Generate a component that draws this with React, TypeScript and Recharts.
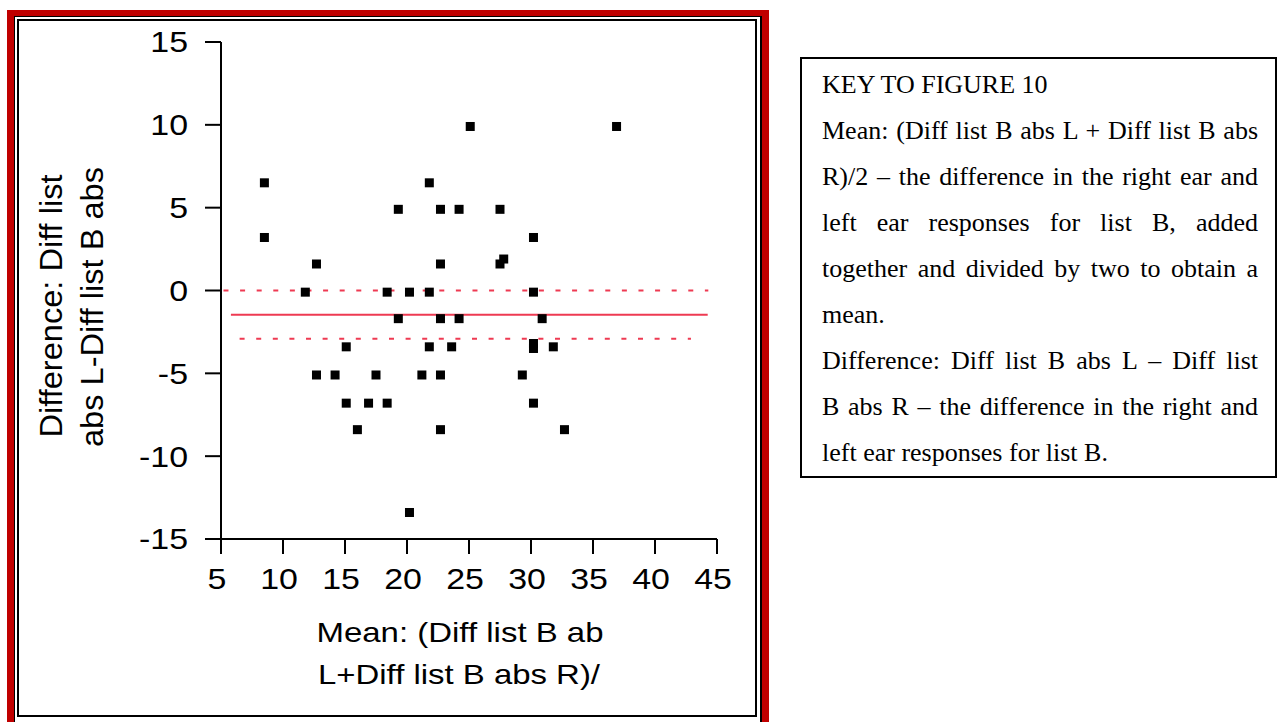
import React from 'react';
import { ScatterChart, Scatter, XAxis, YAxis, ReferenceLine } from 'recharts';

// Mean of the two responses (x) and difference L-R (y) for each subject
const meanValues = [8.5, 8.5, 11.8, 12.7, 12.7, 14.2, 15.1, 15.1, 16.0, 16.9, 17.5, 18.4, 18.4, 19.3, 19.3, 20.2, 20.2, 21.2, 21.8, 21.8, 21.8, 22.7, 22.7, 22.7, 22.7, 22.7, 23.6, 24.2, 24.2, 25.1, 27.5, 27.5, 27.8, 29.3, 30.2, 30.2, 30.2, 30.2, 30.2, 30.9, 31.8, 32.7, 36.9];
const diffValues = [6.5, 3.2, -0.1, 1.6, -5.1, -5.1, -3.4, -6.8, -8.4, -6.8, -5.1, -0.1, -6.8, 4.9, -1.7, -0.1, -13.4, -5.1, 6.5, -0.1, -3.4, 4.9, 1.6, -1.7, -5.1, -8.4, -3.4, 4.9, -1.7, 9.9, 4.9, 1.6, 1.9, -5.1, 3.2, -0.1, -3.2, -3.5, -6.8, -1.7, -3.4, -8.4, 9.9];

// Horizontal reference lines (upper limit, mean difference, lower limit)
const refLevels = [0, -1.46, -2.91];
const refStarts = [5.2, 5.8, 6.5];
const refEnds = [44.3, 44.25, 42.9];
const refDashed = [true, false, true];

const xTicks = [5, 10, 15, 20, 25, 30, 35, 40, 45];
const yTicks = [-15, -10, -5, 0, 5, 10, 15];

const yLabelLines = ['Difference: Diff list', 'abs L-Diff list B abs'];
const xLabelLines = ['Mean: (Diff list B ab', 'L+Diff list B abs R)/'];

const keyLines = [
  'KEY TO FIGURE 10',
  'Mean: (Diff list B abs L + Diff list B abs',
  'R)/2 \u2013 the difference in the right ear and',
  'left ear responses for list B, added',
  'together and divided by two to obtain a',
  'mean.',
  'Difference: Diff list B abs L \u2013 Diff list',
  'B abs R \u2013 the difference in the right and',
  'left ear responses for list B.',
];
const keyJustified = [false, true, true, true, true, false, true, true, false];

const points = meanValues.map((m, i) => ({ x: m, y: diffValues[i] }));

const SANS = '"Liberation Sans", Arial, sans-serif';
const SERIF = '"Liberation Serif", "Times New Roman", serif';
const LINE_COLOR = '#ee3a52';

const XTick = (props: any) => {
  const { x, y, payload } = props;
  return (
    <g transform={`translate(${x - 4},${y})`}>
      <text transform="scale(1.15,1)" textAnchor="middle" dy="0.71em" fontSize={29.5} fill="#000" fontFamily={SANS}>
        {payload.value}
      </text>
    </g>
  );
};

const YTick = (props: any) => {
  const { x, y, payload } = props;
  return (
    <g transform={`translate(${x},${y})`}>
      <text transform="scale(1.15,1)" textAnchor="end" dy="0.355em" fontSize={29.5} fill="#000" fontFamily={SANS}>
        {payload.value}
      </text>
    </g>
  );
};

const SquareDot = (props: any) => {
  const { cx, cy } = props;
  return <rect x={cx - 4.5} y={cy - 4.5} width={9} height={9} fill="#000" />;
};

export default function App() {
  return (
    <div style={{ position: 'absolute', left: 0, top: 0, width: 1279, height: 722, overflow: 'hidden', background: '#fff' }}>
      {/* red frame */}
      <div style={{ position: 'absolute', left: 7, top: 10, width: 762, height: 800, background: '#c00000' }} />
      <div
        style={{
          position: 'absolute', left: 14, top: 16, width: 748, height: 800, background: '#fff', boxSizing: 'border-box',
          borderLeft: '1px solid #000', borderTop: '1px solid #000', borderRight: '2px solid #000',
        }}
      />
      <div style={{ position: 'absolute', left: 17, top: 19, width: 740, height: 698, boxSizing: 'border-box', border: '2px solid #000', background: '#fff' }} />

      <div style={{ position: 'absolute', left: 0, top: 0 }}>
        <ScatterChart width={770} height={722} margin={{ top: 42, right: 53, bottom: 123, left: 71 }}>
          <XAxis
            type="number"
            dataKey="x"
            domain={[5, 45]}
            ticks={xTicks}
            interval={0}
            tickSize={15}
            tickMargin={14}
            height={60}
            axisLine={{ stroke: '#000', strokeWidth: 2 }}
            tickLine={{ stroke: '#000', strokeWidth: 2 }}
            tick={<XTick />}
          />
          <YAxis
            type="number"
            dataKey="y"
            domain={[-15, 15]}
            ticks={yTicks}
            interval={0}
            tickSize={16}
            tickMargin={17}
            width={150}
            axisLine={{ stroke: '#000', strokeWidth: 2 }}
            tickLine={{ stroke: '#000', strokeWidth: 2 }}
            tick={<YTick />}
          />
          <XAxis
            xAxisId="top"
            orientation="top"
            type="number"
            domain={[5, 45]}
            height={0}
            tick={false}
            tickLine={false}
            axisLine={{ stroke: '#000', strokeWidth: 2 }}
          />
          <YAxis
            yAxisId="right"
            orientation="right"
            type="number"
            domain={[-15, 15]}
            width={0}
            tick={false}
            tickLine={false}
            axisLine={{ stroke: '#000', strokeWidth: 2 }}
          />
          {refLevels.map((lvl, i) => (
            <ReferenceLine
              key={i}
              segment={[{ x: refStarts[i], y: lvl }, { x: refEnds[i], y: lvl }]}
              stroke={LINE_COLOR}
              strokeWidth={2}
              strokeDasharray={refDashed[i] ? '5 11.6' : undefined}
              ifOverflow="visible"
            />
          ))}
          <Scatter data={points} shape={<SquareDot />} isAnimationActive={false} />
        </ScatterChart>
      </div>

      {/* axis titles */}
      <svg width={770} height={722} style={{ position: 'absolute', left: 0, top: 0, pointerEvents: 'none' }}>
        <text transform="translate(62,306) rotate(-90)" textAnchor="middle" fontSize={32} fill="#000" fontFamily={SANS} textLength={263} lengthAdjust="spacingAndGlyphs">
          {yLabelLines[0]}
        </text>
        <text transform="translate(102.5,307) rotate(-90)" textAnchor="middle" fontSize={32} fill="#000" fontFamily={SANS} textLength={280} lengthAdjust="spacingAndGlyphs">
          {yLabelLines[1]}
        </text>
        <text x={460} y={642} textAnchor="middle" fontSize={28} fill="#000" fontFamily={SANS} textLength={287} lengthAdjust="spacingAndGlyphs">
          {xLabelLines[0]}
        </text>
        <text x={459} y={684} textAnchor="middle" fontSize={28} fill="#000" fontFamily={SANS} textLength={282} lengthAdjust="spacingAndGlyphs">
          {xLabelLines[1]}
        </text>
      </svg>

      {/* key box */}
      <div
        style={{
          position: 'absolute', left: 800, top: 57, width: 477, height: 421, boxSizing: 'border-box',
          border: '2px solid #000', padding: '3px 17px 0 20px', fontFamily: SERIF, fontSize: 26, color: '#000', background: '#fff',
        }}
      >
        {keyLines.map((line, i) => (
          <div
            key={i}
            style={{
              height: 46, lineHeight: '46px', whiteSpace: 'nowrap',
              textAlign: keyJustified[i] ? 'justify' : 'left',
              textAlignLast: keyJustified[i] ? 'justify' : 'left',
            } as React.CSSProperties}
          >
            {line}
          </div>
        ))}
      </div>
    </div>
  );
}
